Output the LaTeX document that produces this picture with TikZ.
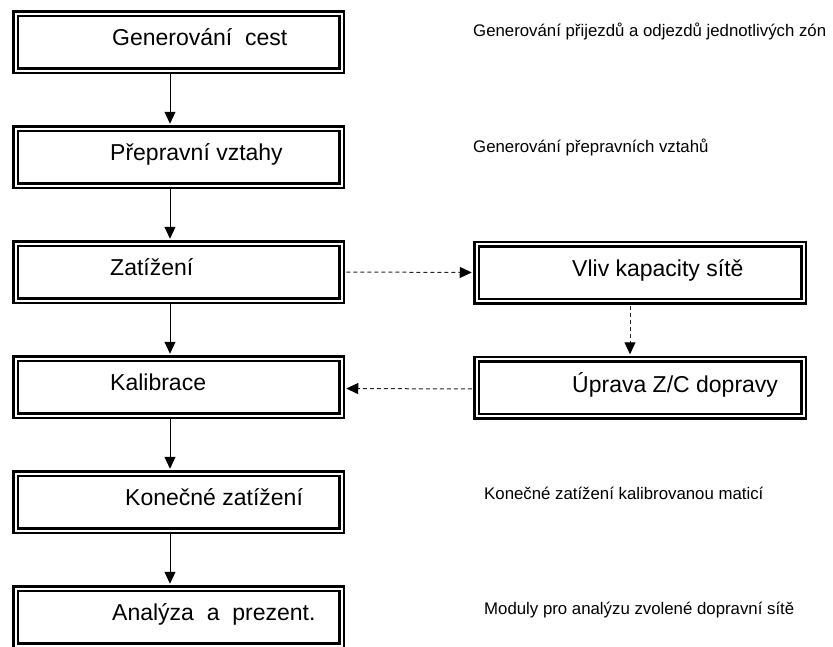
\documentclass[tikz,border=0pt]{standalone}
\usepackage{fontspec}
\setmainfont{Liberation Sans}
\usetikzlibrary{arrows.meta}

\begin{document}
\begin{tikzpicture}[x=1pt,y=-1pt,
    stepbox/.style={draw,double,double distance=2pt,line width=2.5pt,
      minimum width=326pt,minimum height=57pt,inner sep=0pt},
    sidebox/.style={stepbox,minimum width=327pt},
    boxtext/.style={anchor=base west,inner sep=0pt,font=\fontsize{23}{27}\selectfont},
    notetext/.style={anchor=base west,inner sep=0pt,font=\fontsize{16.8}{20}\selectfont},
    flow/.style={-{Triangle[length=12pt,width=11pt]},line width=1pt,shorten >=3.5pt},
    feedback/.style={-{Triangle[length=12pt,width=11pt,color=black]},line width=1pt,
      draw=black!85,dash pattern=on 4pt off 3pt,shorten >=3.5pt,shorten <=3.5pt}]
  \clip (0,0) rectangle (833,646);
  \draw
    (178.5,42) node[stepbox] (gen){}
    (178.5,157) node[stepbox] (prep){}
    (178.5,272) node[stepbox] (zat){}
    (178.5,387) node[stepbox] (kal){}
    (178.5,502) node[stepbox] (kon){}
    (178.5,617) node[stepbox] (anal){}
    (640,272.5) node[sidebox] (vliv){}
    (640,387.5) node[sidebox] (uprava){};
  \draw
    (112,45.5) node[boxtext] (t1){Generování\ \ cest}
    (110,160.5) node[boxtext] (t2){Přepravní vztahy}
    (110,275.5) node[boxtext] (t3){Zatížení}
    (110,390.5) node[boxtext] (t4){Kalibrace}
    (125,505.5) node[boxtext] (t5){Konečné zatížení}
    (112,620.5) node[boxtext] (t6){Analýza\ \ a\ \ prezent.}
    (572,276) node[boxtext] (t7){Vliv kapacity sítě}
    (572,392) node[boxtext] (t8){Úprava Z/C dopravy};
  \draw
    (473,36) node[notetext] (n1){Generování přijezdů a odjezdů jednotlivých zón}
    (473,152) node[notetext] (n2){Generování přepravních vztahů}
    (484,499) node[notetext] (n3){Konečné zatížení kalibrovanou maticí}
    (484,614) node[notetext] (n4){Moduly pro analýzu zvolené dopravní sítě};
  \begin{scope}[flow]
    \draw ([xshift=-8.5pt]gen.south) to ([xshift=-8.5pt]prep.north);
    \draw ([xshift=-8.5pt]prep.south) to ([xshift=-8.5pt]zat.north);
    \draw ([xshift=-8.5pt]zat.south) to ([xshift=-8.5pt]kal.north);
    \draw ([xshift=-8.5pt]kal.south) to ([xshift=-8.5pt]kon.north);
    \draw ([xshift=-8.5pt]kon.south) to ([xshift=-8.5pt]anal.north);
  \end{scope}
  \begin{scope}[feedback]
    \draw (zat.east) to (vliv.west);
    \draw ([xshift=-10pt]vliv.south) to ([xshift=-10pt]uprava.north);
    \draw ([yshift=-1.5pt]uprava.west) to ([yshift=-1.5pt]kal.east);
  \end{scope}
\end{tikzpicture}
\end{document}
